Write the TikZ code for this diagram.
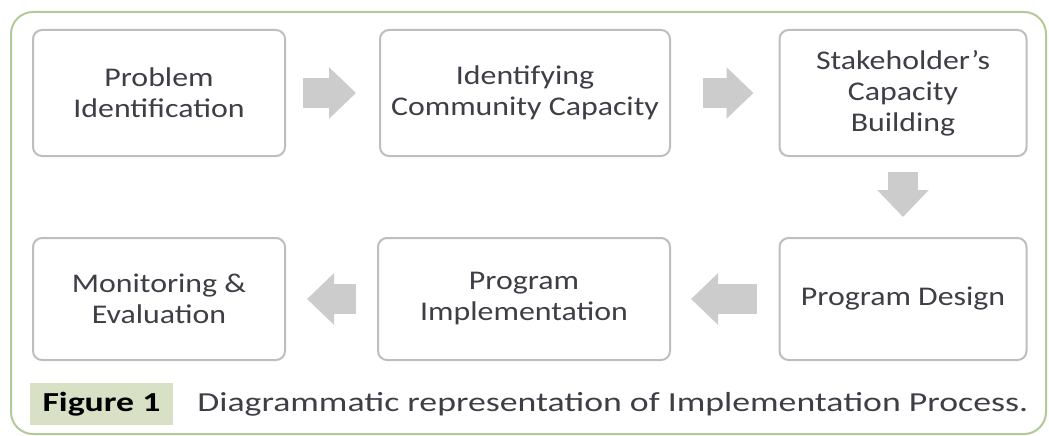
\documentclass[tikz,border=0pt]{standalone}
\usepackage{fontspec}
\setmainfont{Carlito}[FakeStretch=1.18]
\newfontfamily\capfont{Carlito}[FakeStretch=1.3]
\usepackage{tikz}
\usetikzlibrary{positioning, arrows.meta}
\definecolor{frame}{RGB}{178, 202, 152}
\definecolor{boxline}{RGB}{190, 190, 190}
\definecolor{flowgray}{RGB}{204, 204, 204}
\definecolor{ink}{RGB}{62, 62, 70}
\definecolor{tag}{RGB}{216, 224, 198}

\tikzset{
  stage/.style={draw=boxline, line width=2pt, rounded corners=9pt, fill=white,
                align=center, text=ink, font=\fontsize{27}{31}\selectfont},
  flow/.style={draw=flowgray, line width=30pt,
               -{Triangle[length=27pt, width=50pt]}}
}

\begin{document}
\begin{tikzpicture}[x=1pt, y=-1pt]
      \useasboundingbox (0,0) rectangle (1049,436);
      % outer frame
      \draw[frame, line width=2pt, rounded corners=22pt] (11,12) rectangle (1046,434);
      % top row
      \node[stage, minimum width=252pt, minimum height=126pt] (prob) at (159,93) {Problem\\Identification};
      \node[stage, minimum width=290pt, minimum height=126pt] (comm) at (525,93) {Identifying\\Community Capacity};
      \node[stage, minimum width=247pt, minimum height=126pt] (stake) at (903,93) {Stakeholder’s\\Capacity\\Building};
      % bottom row
      \node[stage, minimum width=247pt, minimum height=122pt] (design) at (903,299) {Program Design};
      \node[stage, minimum width=292pt, minimum height=122pt] (impl) at (524,299) {Program\\Implementation};
      \node[stage, minimum width=252pt, minimum height=122pt] (monit) at (159,299) {Monitoring \&\\Evaluation};
      % block arrows
      \draw[flow, shorten <=17pt, shorten >=23pt] (prob) -- (comm);
      \draw[flow, shorten <=32pt, shorten >=25pt] (comm) -- (stake);
      \draw[flow, shorten <=15pt, shorten >=20pt] (stake) -- (design);
      \draw[flow, shorten <=22pt, shorten >=20pt] (design) -- (impl);
      \draw[flow, shorten <=21pt, shorten >=21pt] (impl) -- (monit);
      % caption
      \node[fill=tag, text=black, font=\capfont\fontsize{27.5}{30}\selectfont\bfseries,
            minimum width=143pt, minimum height=42pt] (fig) at (101.5,404) {Figure 1};
      \node[right=24pt of fig, text=ink, font=\capfont\fontsize{27.5}{30}\selectfont, inner sep=0pt] (cap)
            {Diagrammatic representation of Implementation Process.};
\end{tikzpicture}
\end{document}
